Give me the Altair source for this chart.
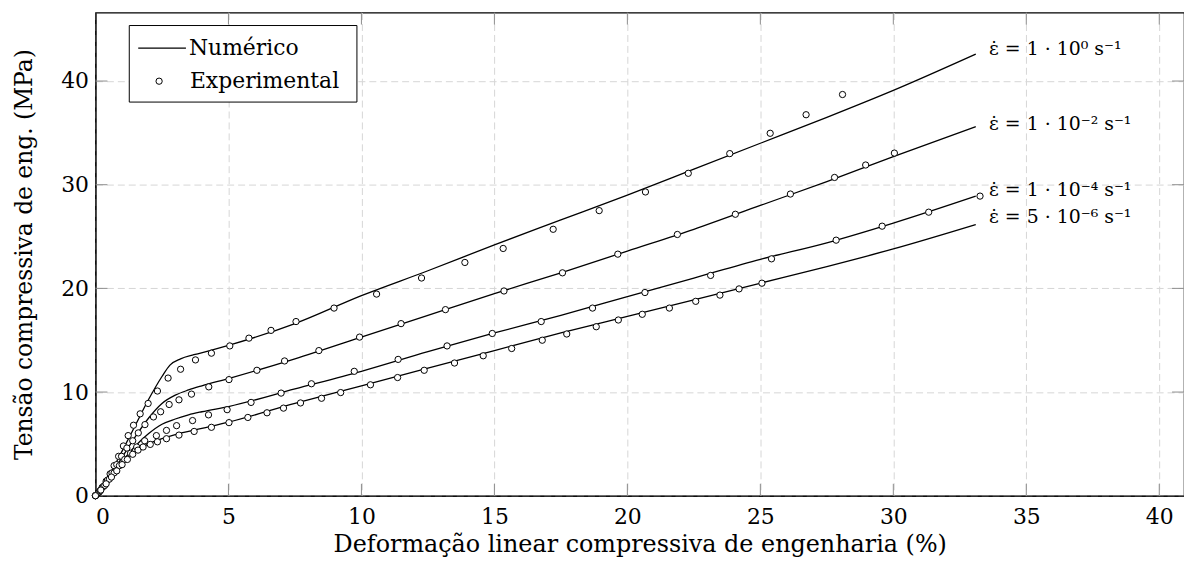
import altair as alt
import pandas as pd

# ---------------- data ----------------
series_names = ["1e0", "1e-2", "1e-4", "5e-6"]

# Numerical curves (strain %, stress MPa)
num1_x = [0, 0.5, 1, 1.5, 2, 2.5, 2.8, 3.2, 3.7, 4.3, 5, 7.5, 10, 12.5, 15, 17.5, 20, 22.5, 25, 27.5, 30, 33.1]
num1_y = [0, 1.9, 4.3, 6.8, 9.3, 11.5, 12.6, 13.2, 13.6, 14.0, 14.5, 16.6, 19.3, 21.7, 24.2, 26.6, 29.0, 31.5, 34.0, 36.5, 39.1, 42.6]

num2_x = [0, 0.5, 1, 1.5, 2, 2.5, 3, 3.5, 4, 5, 7.5, 10, 12.5, 15, 17.5, 20, 22.5, 25, 27.5, 30, 33.1]
num2_y = [0, 1.7, 3.7, 5.7, 7.5, 8.9, 9.7, 10.2, 10.6, 11.3, 13.2, 15.3, 17.4, 19.5, 21.5, 23.6, 25.7, 28.0, 30.3, 32.7, 35.6]

num3_x = [0, 0.5, 1, 1.5, 2, 2.5, 3, 3.5, 4, 5, 7.5, 10, 12.5, 15, 17.5, 20, 22.5, 25, 27.5, 30, 33.1]
num3_y = [0, 1.6, 3.3, 4.8, 6.0, 6.9, 7.4, 7.8, 8.1, 8.6, 10.3, 12.0, 13.9, 15.7, 17.4, 19.2, 21.0, 22.8, 24.4, 26.3, 28.9]

num4_x = [0, 0.5, 1, 1.5, 2, 2.5, 3, 4, 5, 7.5, 10, 12.5, 15, 17.5, 20, 22.5, 25, 27.5, 30, 33.1]
num4_y = [0, 1.5, 3.1, 4.3, 5.0, 5.5, 5.9, 6.5, 7.1, 8.9, 10.6, 12.3, 14.0, 15.7, 17.3, 18.9, 20.5, 22.1, 23.8, 26.15]

# Experimental points
exp1_x = [0, 0.12, 0.25, 0.4, 0.55, 0.7, 0.87, 1.05, 1.23, 1.43, 1.68, 1.98, 2.33, 2.73, 3.2, 3.76, 4.36, 5.05,
          5.77, 6.6, 7.54, 8.97, 10.57, 12.26, 13.89, 15.33, 17.21, 18.94, 20.68, 22.29, 23.85, 25.37, 26.72, 28.09]
exp1_y = [0, 0.3, 0.8, 1.4, 2.1, 2.9, 3.8, 4.8, 5.8, 6.8, 7.9, 8.9, 10.1, 11.35, 12.2, 13.1, 13.75, 14.45,
          15.2, 15.95, 16.8, 18.1, 19.45, 21.0, 22.5, 23.85, 25.7, 27.5, 29.3, 31.1, 33.0, 34.96, 36.75, 38.7]

exp2_x = [0, 0.15, 0.3, 0.45, 0.62, 0.8, 0.98, 1.18, 1.4, 1.61, 1.86, 2.18, 2.45, 2.77, 3.14, 3.61, 4.26, 5.02,
          6.07, 7.11, 8.4, 9.93, 11.49, 13.16, 15.36, 17.56, 19.64, 21.88, 24.06, 26.13, 27.79, 28.96, 30.04]
exp2_y = [0, 0.4, 0.9, 1.5, 2.2, 3.0, 3.8, 4.6, 5.3, 6.06, 6.86, 7.6, 8.1, 8.8, 9.25, 9.8, 10.5, 11.2,
          12.1, 13.0, 14.0, 15.3, 16.6, 17.95, 19.75, 21.5, 23.3, 25.2, 27.15, 29.1, 30.7, 31.9, 33.05]

exp3_x = [0, 0.18, 0.35, 0.52, 0.7, 0.9, 1.1, 1.32, 1.55, 1.85, 2.29, 2.67, 3.05, 3.65, 4.25, 4.95, 5.85, 6.98,
          8.12, 9.73, 11.38, 13.22, 14.92, 16.76, 18.69, 20.66, 23.13, 25.42, 27.85, 29.58, 31.33, 33.26]
exp3_y = [0, 0.5, 1.0, 1.6, 2.2, 2.9, 3.5, 4.1, 4.7, 5.3, 5.8, 6.3, 6.76, 7.25, 7.8, 8.3, 9.0, 9.9,
          10.8, 12.0, 13.15, 14.45, 15.65, 16.8, 18.1, 19.6, 21.25, 22.85, 24.65, 26.0, 27.35, 28.9]

exp4_x = [0, 0.2, 0.4, 0.6, 0.8, 1.0, 1.2, 1.4, 1.6, 1.79, 2.06, 2.33, 2.67, 3.14, 3.71, 4.36, 5.02, 5.73, 6.45,
          7.07, 7.71, 8.5, 9.22, 10.34, 11.36, 12.36, 13.5, 14.58, 15.65, 16.8, 17.72, 18.83, 19.66, 20.56,
          21.58, 22.57, 23.48, 24.2, 25.06]
exp4_y = [0, 0.55, 1.15, 1.8, 2.4, 3.0, 3.5, 4.0, 4.4, 4.7, 4.95, 5.2, 5.5, 5.85, 6.2, 6.6, 7.05, 7.55, 8.0,
          8.45, 8.95, 9.4, 9.95, 10.7, 11.4, 12.1, 12.8, 13.5, 14.2, 15.0, 15.6, 16.3, 16.95, 17.5,
          18.1, 18.75, 19.35, 19.95, 20.5]

# Curve annotations
label_texts = ["ε̇ = 1 · 10⁰ s⁻¹", "ε̇ = 1 · 10⁻² s⁻¹", "ε̇ = 1 · 10⁻⁴ s⁻¹", "ε̇ = 5 · 10⁻⁶ s⁻¹"]
label_x = [33.6, 33.6, 33.6, 33.6]
label_y = [43.1, 35.9, 29.5, 26.9]

x_ticks = [0, 5, 10, 15, 20, 25, 30, 35, 40]
y_ticks = [0, 10, 20, 30, 40]
x_domain = [0, 40.93]
y_domain = [0, 46.6]

x_title = "Deformação linear compressiva de engenharia (%)"
y_title = "Tensão compressiva de eng. (MPa)"
legend_labels = ["Numérico", "Experimental"]

# ---------------- tables ----------------
num_rows = []
for name, xs_, ys_ in zip(series_names, [num1_x, num2_x, num3_x, num4_x], [num1_y, num2_y, num3_y, num4_y]):
    for i, (a, b) in enumerate(zip(xs_, ys_)):
        num_rows.append({"series": name, "order": i, "x": a, "y": b})
num_df = pd.DataFrame(num_rows)

exp_rows = []
for name, xs_, ys_ in zip(series_names, [exp1_x, exp2_x, exp3_x, exp4_x], [exp1_y, exp2_y, exp3_y, exp4_y]):
    for a, b in zip(xs_, ys_):
        exp_rows.append({"series": name, "x": a, "y": b})
exp_df = pd.DataFrame(exp_rows)

lab_df = pd.DataFrame({"x": label_x, "y": label_y, "text": label_texts})
xt_df = pd.DataFrame({"v": x_ticks[1:]})
yt_df = pd.DataFrame({"v": y_ticks[1:]})
one = pd.DataFrame({"a": [0]})

FONT = "DejaVu Serif"
W, H = 1095, 486
TICK = "#8c8c8c"

xs = alt.Scale(domain=x_domain, nice=False, zero=False)
ys = alt.Scale(domain=y_domain, nice=False, zero=False)

x_axis = alt.Axis(values=x_ticks, grid=True, gridDash=[7, 4], gridColor="#d6d6d6", gridWidth=1,
                  domain=True, domainColor="black", domainWidth=1.2, ticks=False,
                  labelFont=FONT, labelFontSize=22, labelColor="black", labelPadding=11,
                  title=x_title, titleFont=FONT, titleFontSize=24, titleFontWeight="normal",
                  titleColor="black", titlePadding=5)
y_axis = alt.Axis(values=y_ticks, grid=True, gridDash=[7, 4], gridColor="#d6d6d6", gridWidth=1,
                  domain=True, domainColor="black", domainWidth=1.2, ticks=False,
                  labelFont=FONT, labelFontSize=22, labelColor="black", labelPadding=7,
                  title=y_title, titleFont=FONT, titleFontSize=23.5, titleFontWeight="normal",
                  titleColor="black", titlePadding=24)

lines = alt.Chart(num_df).mark_line(color="black", strokeWidth=1.3, interpolate="monotone").encode(
    x=alt.X("x:Q", scale=xs, axis=x_axis),
    y=alt.Y("y:Q", scale=ys, axis=y_axis),
    detail="series:N",
    order="order:Q",
)

points = alt.Chart(exp_df).mark_point(shape="circle", filled=True, fill="white", stroke="black",
                                      strokeWidth=1, size=40, opacity=1).encode(
    x=alt.X("x:Q", scale=xs),
    y=alt.Y("y:Q", scale=ys),
)

labels = alt.Chart(lab_df).mark_text(align="left", baseline="middle", font=FONT, fontSize=19,
                                     color="black").encode(
    x=alt.X("x:Q", scale=xs),
    y=alt.Y("y:Q", scale=ys),
    text="text:N",
)

# inward tick marks on all four sides
tb = alt.Chart(xt_df).mark_rule(color=TICK, strokeWidth=1).encode(
    x=alt.X("v:Q", scale=xs), y=alt.value(H), y2=alt.value(H - 12))
tt = alt.Chart(xt_df).mark_rule(color=TICK, strokeWidth=1).encode(
    x=alt.X("v:Q", scale=xs), y=alt.value(0), y2=alt.value(12))
tl = alt.Chart(yt_df).mark_rule(color=TICK, strokeWidth=1).encode(
    y=alt.Y("v:Q", scale=ys), x=alt.value(0), x2=alt.value(12))
tr = alt.Chart(yt_df).mark_rule(color=TICK, strokeWidth=1).encode(
    y=alt.Y("v:Q", scale=ys), x=alt.value(W), x2=alt.value(W - 12))

# legend box
leg_box = alt.Chart(one).mark_rect(fill="white", stroke="black", strokeWidth=1).encode(
    x=alt.value(34), x2=alt.value(263), y=alt.value(13), y2=alt.value(90))
leg_line = alt.Chart(one).mark_rule(color="black", strokeWidth=1.3).encode(
    x=alt.value(43), x2=alt.value(91), y=alt.value(35.7))
leg_pt = alt.Chart(one).mark_point(shape="circle", filled=True, fill="white", stroke="black",
                                   strokeWidth=1, size=40, opacity=1).encode(
    x=alt.value(64), y=alt.value(69))
leg_t1 = alt.Chart(one).mark_text(align="left", baseline="middle", font=FONT, fontSize=22,
                                  color="black", text=legend_labels[0]).encode(
    x=alt.value(94), y=alt.value(35.7))
leg_t2 = alt.Chart(one).mark_text(align="left", baseline="middle", font=FONT, fontSize=22,
                                  color="black", text=legend_labels[1]).encode(
    x=alt.value(95), y=alt.value(69))

chart = alt.layer(
    lines, tb, tt, tl, tr, points, labels, leg_box, leg_line, leg_pt, leg_t1, leg_t2
).properties(
    width=W, height=H,
    autosize=alt.AutoSizeParams(type="none"),
    padding={"left": 88, "top": 3, "right": 0, "bottom": 60},
    background="white",
).configure_view(stroke="black", strokeWidth=1.2)

chart.save("out.html", embed_options={"renderer": "svg", "actions": False})
